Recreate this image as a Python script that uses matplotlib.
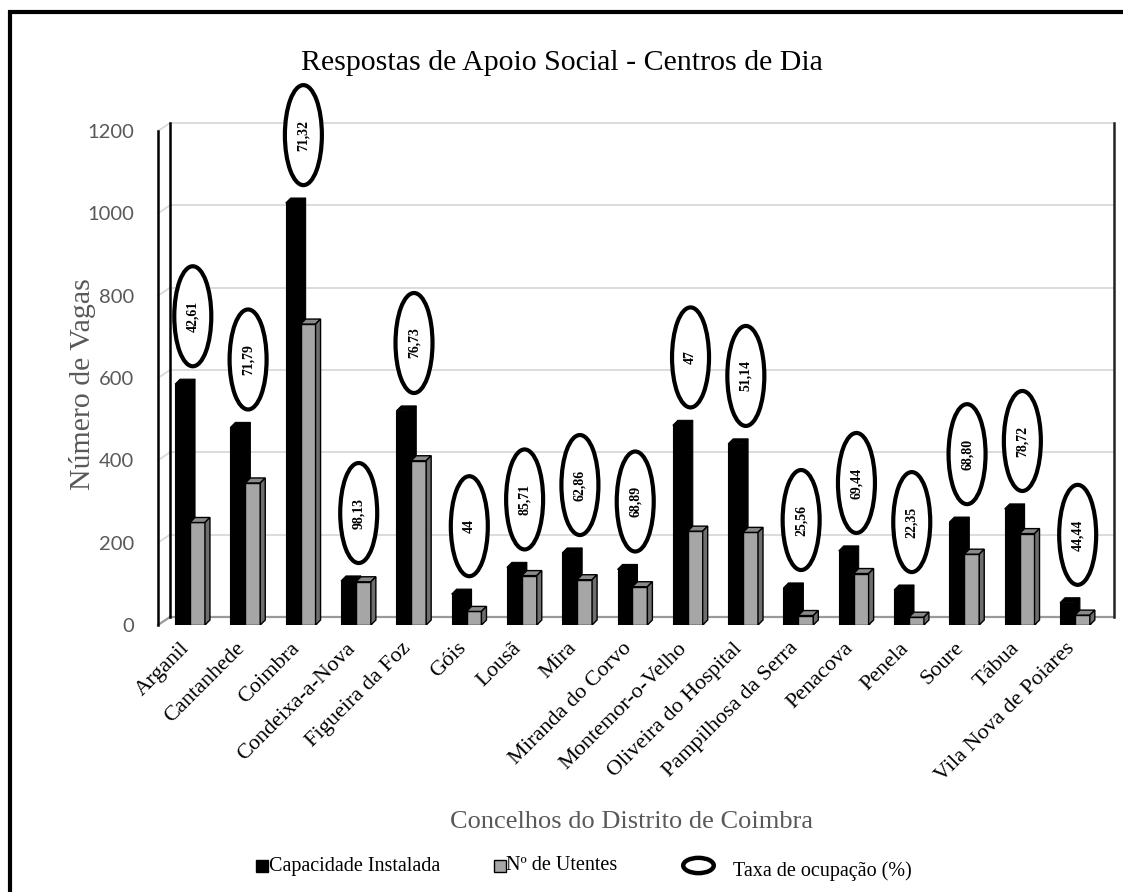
import matplotlib
matplotlib.use("Agg")
import matplotlib.pyplot as plt
import matplotlib.patches as mpatches
from matplotlib.path import Path
from matplotlib.lines import Line2D
import matplotlib.transforms as mtrans

# ---------------- data ----------------
concelhos = ["Arganil", "Cantanhede", "Coimbra", "Condeixa-a-Nova", "Figueira da Foz",
             "Góis", "Lousã", "Mira", "Miranda do Corvo", "Montemor-o-Velho",
             "Oliveira do Hospital", "Pampilhosa da Serra", "Penacova", "Penela",
             "Soure", "Tábua", "Vila Nova de Poiares"]
capacidade = [585, 480, 1025, 107, 520, 75, 140, 175, 135, 485, 440, 90, 180, 85, 250, 282, 54]
utentes = [249, 345, 731, 105, 399, 33, 120, 110, 93, 228, 225, 23, 125, 19, 172, 222, 24]
taxa_labels = ["42,61", "71,79", "71,32", "98,13", "76,73", "44", "85,71", "62,86", "68,89",
               "47", "51,14", "25,56", "69,44", "22,35", "68,80", "78,72", "44,44"]
y_ticks = [0, 200, 400, 600, 800, 1000, 1200]

titulo = "Respostas de Apoio Social - Centros de Dia"
y_titulo = "Número de Vagas"
x_titulo = "Concelhos do Distrito de Coimbra"
legenda = ["Capacidade Instalada", "Nº de Utentes", "Taxa de ocupação (%)"]

# ---------------- style ----------------
SERIF = "Liberation Serif"
SANS = "Lato"
GRAY_TXT = "#595959"
GRID = "#d9d9d9"
BAR_GREY = "#a6a6a6"
GREY_SIDE = "#6e6e6e"
GREY_TOP = "#8a8a8a"

W, H = 1123, 892
fig = plt.figure(figsize=(W / 100, H / 100), dpi=100)

# front plane of the 3D plot (pixels)
FL, FR, FT, FB = 158, 1102, 131, 625
ax = fig.add_axes([FL / W, (H - FB) / H, (FR - FL) / W, (FB - FT) / H])
XMIN, XMAX = -0.579, 16.49
ax.set_xlim(XMIN, XMAX)
ax.set_ylim(0, 1200)
for s in ax.spines.values():
    s.set_visible(False)

sx = (XMAX - XMIN) / (FR - FL)   # data units per pixel (x)
sy = 1200.0 / (FB - FT)          # data units per pixel (y)

# back wall offset
DX, DY = 12 * sx, 8 * sy
# bar depth offset
ddx, ddy = 5 * sx, 5 * sy

# gridlines on back wall + left wall diagonals
for v in y_ticks:
    col = GRID if v > 0 else "#9a9a9a"
    lw = 1.3 if v > 0 else 1.6
    ax.plot([XMIN, XMIN + DX], [v, v + DY], color=col, lw=lw, clip_on=False, zorder=1)
    ax.plot([XMIN + DX, XMAX + DX], [v + DY, v + DY], color=col, lw=lw, clip_on=False, zorder=1)

# walls
ax.plot([XMIN, XMIN], [0, 1200], color="black", lw=1.8, clip_on=False, zorder=2)
ax.plot([XMIN + DX, XMIN + DX], [DY, 1200 + DY], color="black", lw=1.8, clip_on=False, zorder=2)
ax.plot([XMAX + DX, XMAX + DX], [DY, 1200 + DY], color="#222222", lw=1.8, clip_on=False, zorder=2)

# bars
x = list(range(len(concelhos)))
bw = 0.27
ax.bar([i - bw for i in x], capacidade, width=bw, align="edge", color="black",
       edgecolor="black", lw=0.8, zorder=3)
for i, v in zip(x, capacidade):
    x0, x1 = i - bw, i
    ax.add_patch(mpatches.Polygon([(x0, v), (x1, v), (x1 + ddx, v + ddy), (x0 + ddx, v + ddy)],
                                  closed=True, fc="black", ec="black", lw=0.8, zorder=3))
    ax.add_patch(mpatches.Polygon([(x1, 0), (x1, v), (x1 + ddx, v + ddy), (x1 + ddx, ddy)],
                                  closed=True, fc="black", ec="black", lw=0.8, zorder=3))

ax.bar(x, utentes, width=bw, align="edge", color=BAR_GREY, edgecolor="black", lw=1.0, zorder=4)
for i, v in zip(x, utentes):
    x0, x1 = i, i + bw
    ax.add_patch(mpatches.Polygon([(x0, v), (x1, v), (x1 + ddx, v + ddy), (x0 + ddx, v + ddy)],
                                  closed=True, fc=GREY_TOP, ec="black", lw=1.0, zorder=4))
    ax.add_patch(mpatches.Polygon([(x1, 0), (x1, v), (x1 + ddx, v + ddy), (x1 + ddx, ddy)],
                                  closed=True, fc=GREY_SIDE, ec="black", lw=1.0, zorder=4))

# occupancy-rate ellipses
EW, EH, EGAP = 37 * sx, 100 * sy, 165
for i, v, lab in zip(x, capacidade, taxa_labels):
    cx, cy = i + 0.05, v + EGAP
    ax.add_patch(mpatches.Ellipse((cx, cy), EW, EH, fc="white", ec="black", lw=3.0,
                                  clip_on=False, zorder=5))
    ax.text(cx, cy, lab, rotation=90, ha="center", va="center", fontsize=10,
            fontweight="bold", family=SERIF, zorder=6, clip_on=False)

# ticks
ax.set_yticks(y_ticks)
ax.set_yticklabels([str(t) for t in y_ticks], family=SANS, fontsize=14.5, color=GRAY_TXT)
ax.tick_params(axis="y", length=0, pad=17)
ax.set_xticks(x)
ax.set_xticklabels(concelhos, rotation=45, ha="right", rotation_mode="anchor",
                   family=SERIF, fontsize=16)
ax.tick_params(axis="x", length=0, pad=10)
shift = mtrans.ScaledTranslation(-10 / 100, 0, fig.dpi_scale_trans)
for lab in ax.get_xticklabels():
    lab.set_transform(lab.get_transform() + shift)

# titles
fig.text(562 / W, 1 - 63 / H, titulo, ha="center", va="center", family=SERIF, fontsize=21.5)
fig.text(83 / W, 1 - 384 / H, y_titulo, ha="center", va="center", rotation=90,
         family=SERIF, fontsize=21.5, color=GRAY_TXT)
fig.text(632 / W, 1 - 822 / H, x_titulo, ha="center", va="center", family=SERIF,
         fontsize=19, color=GRAY_TXT)

# legend (manual layout)
LEG_Y = 1 - 866 / H
leg_font = {"family": SERIF, "size": 14.5}
ell_path = Path.unit_circle().transformed(mtrans.Affine2D().scale(1.0, 0.5))
fig.add_artist(Line2D([262 / W], [LEG_Y], transform=fig.transFigure, marker="s",
                      color="black", linestyle="None", markersize=8.5))
fig.text(269 / W, LEG_Y, legenda[0], ha="left", va="center", **leg_font)
fig.add_artist(Line2D([500 / W], [LEG_Y], transform=fig.transFigure, marker="s",
                      markerfacecolor=BAR_GREY, markeredgecolor="black", markeredgewidth=1.0,
                      linestyle="None", markersize=8.5))
fig.text(506 / W, LEG_Y, legenda[1], ha="left", va="center", **leg_font)
fig.add_artist(Line2D([698 / W], [LEG_Y + 1 / H], transform=fig.transFigure, marker=ell_path,
                      markerfacecolor="white", markeredgecolor="black", markeredgewidth=3.2,
                      linestyle="None", markersize=22))
fig.text(733 / W, LEG_Y - 5 / H, legenda[2], ha="left", va="center", **leg_font)

# outer chart frame (cut at right/bottom)
fig.add_artist(mpatches.Rectangle((10 / W, -0.5), 2.0, 1.5 - 12 / H, transform=fig.transFigure,
                                  fill=False, ec="black", lw=3.0))

fig.savefig("out.png", dpi=100)
